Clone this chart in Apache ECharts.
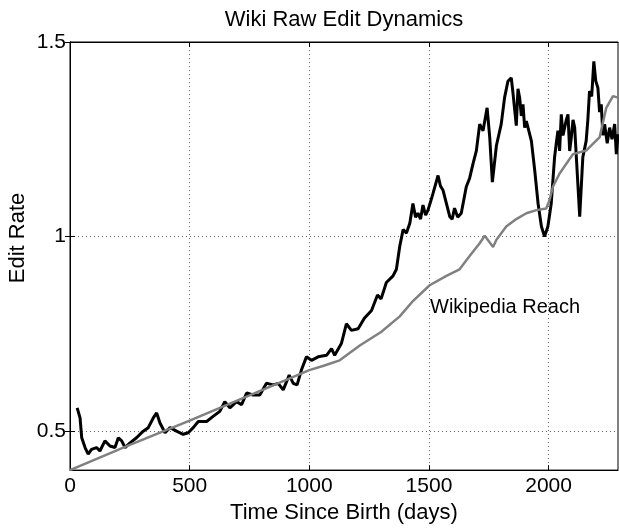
<!DOCTYPE html>
<html>
<head>
<meta charset="utf-8">
<script src="https://cdn.jsdelivr.net/npm/echarts@6/dist/echarts.min.js"></script>
<style>
  html, body { margin: 0; padding: 0; background: #fff; }
  #chart { width: 619px; height: 529px; }
</style>
</head>
<body>
<div id="chart"></div>
<script>
// values
var xTicks = [0, 500, 1000, 1500, 2000];
var yTicks = [0.5, 1, 1.5];

var reachDays = [0, 250, 500, 750, 1000, 1060, 1127, 1211, 1300, 1378, 1434, 1503, 1573, 1628, 1670, 1712, 1733,
  1768, 1782, 1823, 1865, 1907, 1949, 1990, 2004, 2018, 2046, 2074, 2102, 2157, 2185, 2213, 2241, 2269, 2290];
var reachRate = [0.40, 0.465, 0.527, 0.592, 0.657, 0.668, 0.682, 0.72, 0.755, 0.795, 0.835, 0.875, 0.899, 0.916, 0.95, 0.983, 1.002,
  0.973, 0.992, 1.026, 1.045, 1.06, 1.068, 1.072, 1.094, 1.128, 1.162, 1.187, 1.212, 1.221, 1.238, 1.255, 1.331, 1.361, 1.357];

var editDays = [30, 42, 49, 63, 76, 90, 111, 125, 146, 167, 188, 202, 216, 230, 251, 278, 306, 327, 348, 362,
  376, 397, 418, 445, 473, 494, 515, 536, 571, 598, 626, 647, 668, 696, 717, 738, 765, 793, 821, 849,
  870, 891, 916, 933, 949, 967, 988, 1009, 1037, 1072, 1093, 1106, 1134, 1155, 1176, 1204, 1230, 1260,
  1285, 1300, 1322, 1350, 1364, 1378, 1392, 1406, 1420, 1433, 1444, 1454, 1465, 1475, 1486, 1496, 1507, 1517, 1538, 1548, 1559, 1587,
  1597, 1607, 1620, 1635, 1656, 1670, 1684, 1698, 1712, 1726, 1743, 1754, 1765, 1782, 1802, 1816, 1830, 1844, 1851, 1858, 1865, 1872, 1879,
  1886, 1893, 1900, 1907, 1928, 1942, 1956, 1970, 1983, 1997, 2011, 2025, 2032, 2039, 2046, 2053, 2060, 2067, 2074, 2081, 2088, 2095, 2102, 2109, 2130,
  2143, 2157, 2164, 2171, 2180, 2189, 2197, 2206, 2213, 2220, 2227, 2234, 2245, 2255, 2265, 2276, 2283, 2290];
var editRate = [0.56, 0.534, 0.483, 0.458, 0.441, 0.453, 0.458, 0.449, 0.475, 0.462, 0.458, 0.483, 0.475, 0.458, 0.47, 0.483, 0.5, 0.509, 0.534, 0.547,
  0.521, 0.496, 0.509, 0.5, 0.492, 0.496, 0.509, 0.525, 0.525, 0.538, 0.551, 0.576, 0.56, 0.576, 0.568, 0.598, 0.593, 0.593, 0.623, 0.619,
  0.623, 0.606, 0.644, 0.623, 0.619, 0.657, 0.691, 0.682, 0.691, 0.695, 0.712, 0.695, 0.725, 0.776, 0.759, 0.763, 0.79, 0.81,
  0.85, 0.84, 0.882, 0.899, 0.916, 0.975, 1.018, 1.009, 1.034, 1.085, 1.05, 1.06, 1.045, 1.081, 1.055, 1.068, 1.09, 1.111, 1.157, 1.13, 1.119, 1.051,
  1.045, 1.073, 1.05, 1.06, 1.128, 1.15, 1.187, 1.22, 1.289, 1.272, 1.331, 1.255, 1.14, 1.234, 1.289, 1.357, 1.399, 1.408, 1.37, 1.374, 1.285, 1.38, 1.357,
  1.31, 1.34, 1.28, 1.297, 1.246, 1.17, 1.085, 1.026, 1.0, 1.026, 1.085, 1.204, 1.24, 1.272, 1.22, 1.314, 1.26, 1.263, 1.3, 1.314, 1.22, 1.255, 1.3, 1.28, 1.051,
  1.204, 1.246, 1.3, 1.374, 1.36, 1.45, 1.4, 1.382, 1.32, 1.34, 1.26, 1.289, 1.24, 1.28, 1.25, 1.289, 1.212, 1.263];

function pairs(xs, ys) {
  return xs.map(function (x, i) { return [x, ys[i]]; });
}

var font = 'Liberation Sans, Arial, Helvetica, sans-serif';
var chart = echarts.init(document.getElementById('chart'));

var dotted = { color: '#666', width: 1, type: [1, 3] };

chart.setOption({
  animation: false,
  grid: { left: 70, right: 1, top: 42, bottom: 53, show: true, borderColor: '#000', borderWidth: 1 },
  xAxis: [{
    type: 'value', min: 0, max: 2290,
    axisLine: { lineStyle: { color: '#000', width: 1 } },
    axisTick: { inside: true, length: 5, customValues: xTicks, lineStyle: { color: '#000' } },
    axisLabel: { customValues: xTicks, color: '#000', fontSize: 21, fontFamily: font, margin: 6,
      formatter: function (v) { return String(v); } },
    splitLine: { show: true, lineStyle: dotted },
    name: 'Time Since Birth (days)', nameLocation: 'middle', nameGap: 29,
    nameTextStyle: { color: '#000', fontSize: 22, fontFamily: font }
  }, {
    type: 'value', min: 0, max: 2290, position: 'top',
    axisLine: { show: true, lineStyle: { color: '#000' } },
    axisTick: { inside: true, length: 5, customValues: xTicks, lineStyle: { color: '#000' } },
    axisLabel: { show: false }, splitLine: { show: false }
  }],
  yAxis: [{
    type: 'value', min: 0.4, max: 1.5,
    axisLine: { show: true, lineStyle: { color: '#000', width: 1 } },
    axisTick: { show: true, inside: true, length: 5, customValues: yTicks, lineStyle: { color: '#000' } },
    axisLabel: { customValues: yTicks, color: '#000', fontSize: 21, fontFamily: font, margin: 4,
      formatter: function (v) { return String(v); } },
    splitLine: { show: true, lineStyle: dotted }
  }, {
    type: 'value', min: 0.4, max: 1.5, position: 'right',
    axisLine: { show: true, lineStyle: { color: '#000' } },
    axisTick: { show: true, inside: true, length: 5, customValues: yTicks, lineStyle: { color: '#000' } },
    axisLabel: { show: false }, splitLine: { show: false }
  }],
  graphic: [
    { type: 'text', x: 344, y: 20,
      style: { text: 'Wiki Raw Edit Dynamics', fill: '#000', font: '22px ' + font, textAlign: 'center', textVerticalAlign: 'middle' } },
    { type: 'text', x: 18, y: 238, rotation: Math.PI / 2,
      style: { text: 'Edit Rate', fill: '#000', font: '22px ' + font, textAlign: 'center', textVerticalAlign: 'middle' } },
    { type: 'text', x: 430, y: 307,
      style: { text: 'Wikipedia Reach', fill: '#000', font: '20px ' + font, textAlign: 'left', textVerticalAlign: 'middle' } }
  ],
  series: [{
    name: 'Edit Rate', type: 'line', showSymbol: false, symbol: 'none',
    data: pairs(editDays, editRate),
    lineStyle: { color: '#000', width: 3 }, z: 3
  }, {
    name: 'Wikipedia Reach', type: 'line', showSymbol: false, symbol: 'none',
    data: pairs(reachDays, reachRate),
    lineStyle: { color: '#808080', width: 2.5 }, z: 4
  }]
});
</script>
</body>
</html>
